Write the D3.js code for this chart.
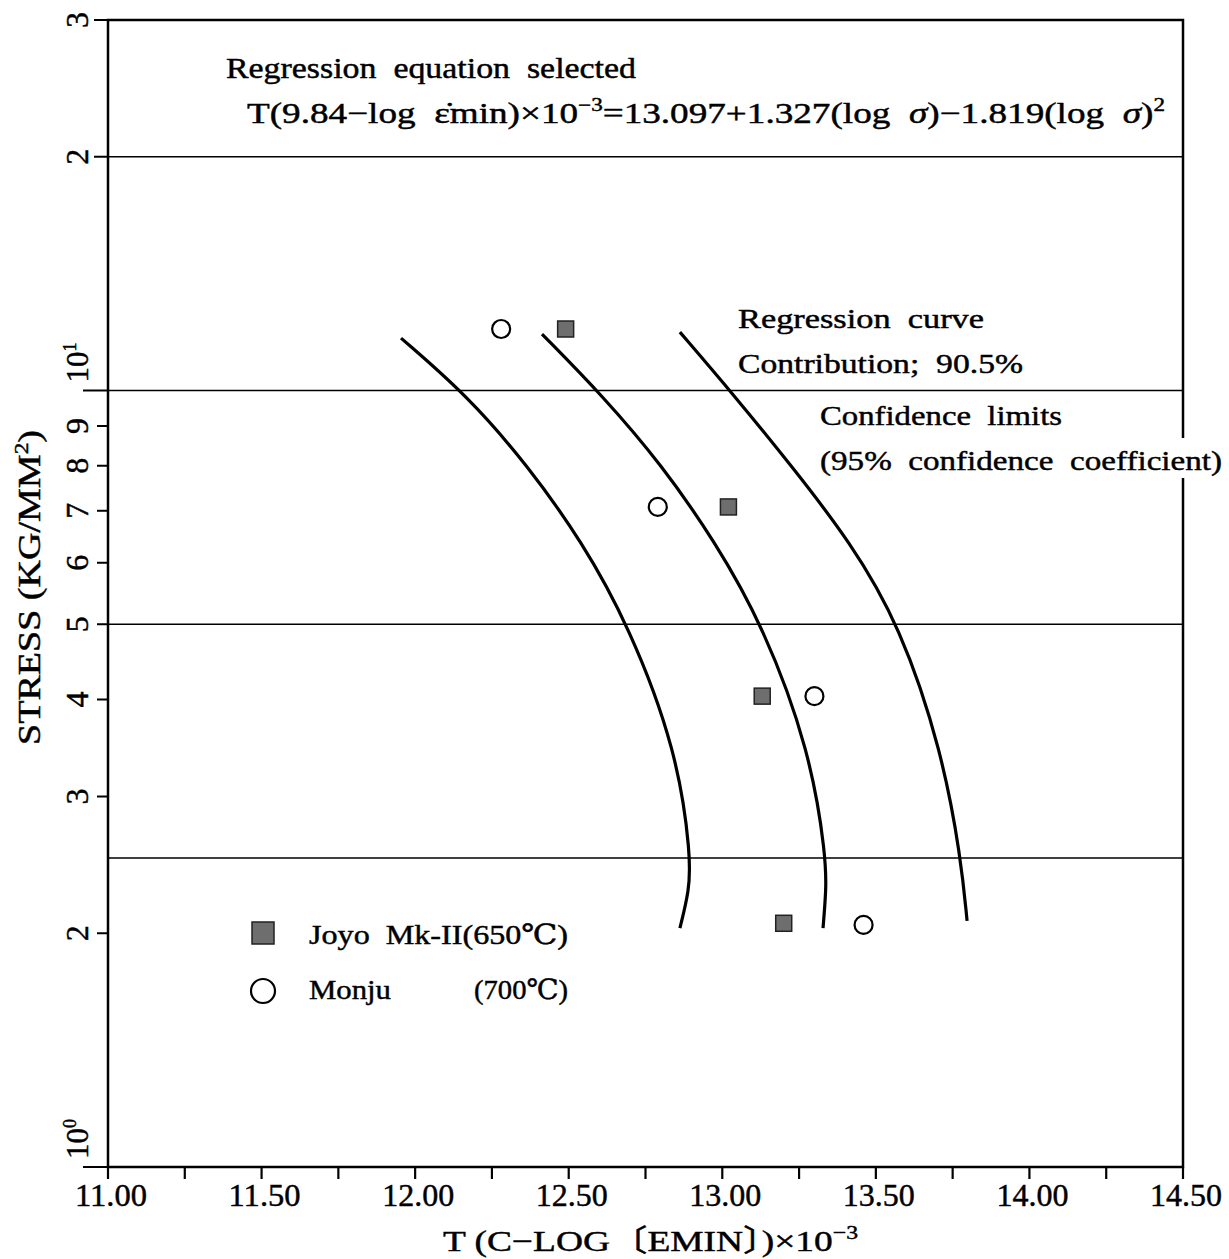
<!DOCTYPE html>
<html lang="en">
<head>
<meta charset="UTF-8">
<title>Stress vs T(C-log emin)</title>
<script src="https://cdn.jsdelivr.net/npm/d3@7"></script>
<style>
    body { margin: 0; background: #fff; }
    text { font-family: "Liberation Serif", "Times New Roman", "DejaVu Serif", "Noto Sans CJK JP", serif; fill: #000; stroke: #000; stroke-width: 0.45px; white-space: pre; }
</style>
</head>
<body>
<svg width="1229" height="1259"></svg>
<script>
    // axis ticks
    const xTickValues = [11, 11.25, 11.5, 11.75, 12, 12.25, 12.5, 12.75, 13, 13.25, 13.5, 13.75, 14, 14.25, 14.5];
    const xTickLabels = ["11.00", "11.50", "12.00", "12.50", "13.00", "13.50", "14.00", "14.50"];
    const yTickValues = [1, 2, 3, 4, 5, 6, 7, 8, 9, 10, 20, 30];
    const yTickLabels = ["10|0", "2", "3", "4", "5", "6", "7", "8", "9", "10|1", "2", "3"];
    const refLines = [20, 10, 5, 2.5];

    // test data
    const joyoT = [12.49, 13.02, 13.13, 13.20];
    const joyoS = [12.0, 7.08, 4.04, 2.06];
    const monjuT = [12.28, 12.79, 13.30, 13.46];
    const monjuS = [12.0, 7.08, 4.04, 2.05];

    // regression curve and 95% confidence limits
    const lowerS = [11.68, 9.83, 8.0, 6.39, 4.98, 3.43, 2.50, 2.27, 2.03];
    const lowerT = [11.954, 12.172, 12.367, 12.543, 12.696, 12.853, 12.898, 12.892, 12.862];
    const midS = [11.82, 9.83, 8.0, 6.39, 4.98, 3.43, 2.50, 2.27, 2.03];
    const midT = [12.413, 12.612, 12.805, 12.976, 13.133, 13.286, 13.338, 13.338, 13.328];
    const upperS = [11.89, 9.83, 8.0, 6.39, 4.98, 3.43, 2.50, 2.075];
    const upperT = [12.862, 13.041, 13.225, 13.416, 13.579, 13.715, 13.777, 13.797];

    const svg = d3.select("svg");
    const x = d3.scaleLinear().domain([11, 14.5]).range([108, 1183]);
    const y = d3.scaleLog().domain([1, 30]).range([1167, 20]);

    // reference lines
    svg.selectAll(".ref").data(refLines).enter().append("line")
        .attr("x1", x(11)).attr("x2", x(14.5))
        .attr("y1", d => y(d)).attr("y2", d => y(d))
        .attr("stroke", "#000").attr("stroke-width", 1.6);

    // frame
    svg.append("rect")
        .attr("x", x(11)).attr("y", y(30))
        .attr("width", x(14.5) - x(11)).attr("height", y(1) - y(30))
        .attr("fill", "none").attr("stroke", "#000").attr("stroke-width", 2.5);

    // x ticks (pointing down)
    svg.selectAll(".xt").data(xTickValues).enter().append("line")
        .attr("x1", d => x(d)).attr("x2", d => x(d))
        .attr("y1", y(1)).attr("y2", y(1) + 12)
        .attr("stroke", "#000").attr("stroke-width", 2.2);
    svg.selectAll(".xl").data(xTickLabels).enter().append("text")
        .attr("x", d => x(+d) + 3).attr("y", 1206)
        .attr("text-anchor", "middle").attr("font-size", 32)
        .attr("textLength", 72).attr("lengthAdjust", "spacingAndGlyphs")
        .text(d => d);

    // y ticks (pointing left)
    svg.selectAll(".yt").data(yTickValues).enter().append("line")
        .attr("x1", d => (d === 1 || d === 10) ? 83 : (d >= 20 ? 94 : 97)).attr("x2", x(11))
        .attr("y1", d => y(d)).attr("y2", d => y(d))
        .attr("stroke", "#000").attr("stroke-width", 2);
    yTickValues.forEach((v, i) => {
        const lab = yTickLabels[i];
        if (lab.includes("|")) {
            const [base, exp] = lab.split("|");
            const t = svg.append("text")
                .attr("transform", `translate(88,${y(v) - 8}) rotate(-90)`)
                .attr("text-anchor", "start").attr("font-size", 31);
            t.append("tspan").text(base);
            t.append("tspan").attr("dy", -12).attr("font-size", 18).text(exp);
        } else {
            svg.append("text")
                .attr("transform", `translate(88,${y(v)}) rotate(-90)`)
                .attr("text-anchor", "middle").attr("font-size", 32)
                .text(lab);
        }
    });

    // axis titles
    const xt = svg.append("text").attr("x", 443).attr("y", 1251)
        .attr("font-size", 30).attr("textLength", 415).attr("lengthAdjust", "spacingAndGlyphs");
    xt.append("tspan").text("T (C−LOG〔EMIN〕)×10");
    xt.append("tspan").attr("dy", -12).attr("font-size", 19).text("−3");

    const yt = svg.append("text").attr("transform", "translate(40,745) rotate(-90)")
        .attr("font-size", 31).attr("textLength", 315).attr("lengthAdjust", "spacingAndGlyphs");
    yt.append("tspan").text("STRESS (KG/MM");
    yt.append("tspan").attr("dy", -12).attr("font-size", 19).text("2");
    yt.append("tspan").attr("dy", 12).text(")");

    // curves
    const line = d3.line().x(d => x(d[0])).y(d => y(d[1])).curve(d3.curveBasis);
    [[lowerT, lowerS], [midT, midS], [upperT, upperS]].forEach(([ts, ss]) => {
        svg.append("path")
            .attr("d", line(ts.map((t, i) => [t, ss[i]])))
            .attr("fill", "none").attr("stroke", "#000").attr("stroke-width", 3.2);
    });

    // points
    svg.selectAll(".joyo").data(joyoT).enter().append("rect")
        .attr("x", (d, i) => x(d) - 8).attr("y", (d, i) => y(joyoS[i]) - 8)
        .attr("width", 16).attr("height", 16)
        .attr("fill", "#6e6e6e").attr("stroke", "#222").attr("stroke-width", 1.5);
    svg.selectAll(".monju").data(monjuT).enter().append("circle")
        .attr("cx", d => x(d)).attr("cy", (d, i) => y(monjuS[i]))
        .attr("r", 9).attr("fill", "#fff").attr("stroke", "#000").attr("stroke-width", 2.2);

    // annotations
    function addText(px, py, size, len, parts) {
        const t = svg.append("text").attr("x", px).attr("y", py).attr("font-size", size);
        if (len) t.attr("textLength", len).attr("lengthAdjust", "spacingAndGlyphs");
        parts.forEach(p => {
            const s = t.append("tspan").text(p.t);
            if (p.sup) s.attr("dy", -12).attr("font-size", 18);
            if (p.down) s.attr("dy", 12);
            if (p.it) s.attr("font-style", "italic");
        });
        return t;
    }
    addText(226, 78, 29, 410, [{t: "Regression  equation  selected"}]);
    addText(247, 123, 29, 918, [
        {t: "T(9.84−log  ε̇min)×10"}, {t: "−3", sup: true},
        {t: "=13.097+1.327(log  ", down: true}, {t: "σ", it: true},
        {t: ")−1.819(log  "}, {t: "σ", it: true}, {t: ")"}, {t: "2", sup: true}
    ]);
    addText(738, 328, 28, 246, [{t: "Regression  curve"}]);
    addText(738, 373, 28, 285, [{t: "Contribution;  90.5%"}]);
    addText(820, 425, 28, 242, [{t: "Confidence  limits"}]);
    svg.append("rect").attr("x", 815).attr("y", 438).attr("width", 412).attr("height", 40).attr("fill", "#fff");
    addText(820, 470, 28, 402, [{t: "(95%  confidence  coefficient)"}]);

    // legend
    svg.append("rect").attr("x", 252).attr("y", 922).attr("width", 22).attr("height", 22)
        .attr("fill", "#6e6e6e").attr("stroke", "#222").attr("stroke-width", 1.5);
    addText(309, 944, 28, 259, [{t: "Joyo  Mk-II(650℃)"}]);
    svg.append("circle").attr("cx", 263).attr("cy", 991).attr("r", 12)
        .attr("fill", "#fff").attr("stroke", "#000").attr("stroke-width", 2.2);
    addText(309, 999, 28, 82, [{t: "Monju"}]);
    addText(474, 999, 28, 94, [{t: "(700℃)"}]);
</script>
</body>
</html>
